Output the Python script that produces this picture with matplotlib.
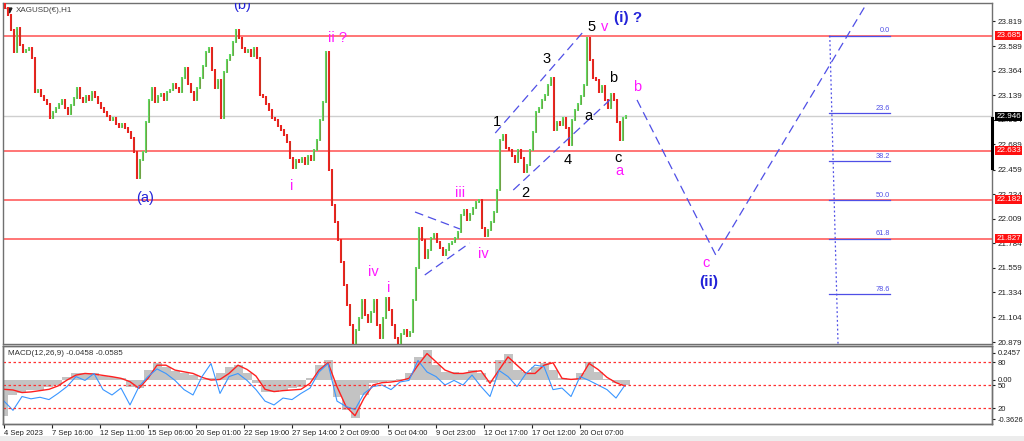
import numpy as np
import matplotlib.pyplot as plt
import matplotlib.transforms as mtransforms

plt.rcParams['font.family'] = ['Liberation Sans', 'DejaVu Sans']

# XAGUSD(EUR) H1 closes, one value every 4 bars
closes = [
    23.938, 23.874, 23.737, 23.535, 23.755, 23.599, 23.535, 23.553, 23.572, 23.480,
    23.169, 23.187, 23.132, 23.096, 23.059, 22.931, 22.986, 23.022, 23.059, 23.096,
    23.022, 22.967, 23.050, 23.114, 23.205, 23.114, 23.077, 23.132, 23.096, 23.169,
    23.123, 23.068, 23.022, 22.986, 22.949, 22.912, 22.931, 22.876, 22.848, 22.876,
    22.839, 22.802, 22.748, 22.619, 22.381, 22.546, 22.619, 22.894, 23.096, 23.205,
    23.077, 23.132, 23.150, 23.096, 23.169, 23.187, 23.242, 23.205, 23.169, 23.297,
    23.389, 23.242, 23.169, 23.096, 23.205, 23.297, 23.407, 23.535, 23.572, 23.370,
    23.205, 23.279, 22.931, 23.352, 23.462, 23.508, 23.627, 23.737, 23.663, 23.572,
    23.535, 23.553, 23.499, 23.572, 23.480, 23.141, 23.123, 23.059, 23.004, 22.931,
    22.912, 22.857, 22.821, 22.775, 22.711, 22.564, 22.473, 22.546, 22.528, 22.564,
    22.509, 22.583, 22.546, 22.638, 22.729, 22.912, 23.077, 23.535, 22.454, 22.134,
    21.978, 21.813, 21.612, 21.401, 21.218, 21.035, 20.850, 20.989, 21.099, 21.264,
    21.127, 21.062, 21.154, 21.264, 21.035, 20.916, 21.099, 21.282, 21.172, 21.035,
    20.916, 20.850, 20.953, 20.989, 20.934, 20.971, 21.264, 21.557, 21.923, 21.813,
    21.649, 21.722, 21.832, 21.868, 21.795, 21.740, 21.676, 21.722, 21.777, 21.795,
    21.832, 21.887, 22.042, 22.088, 21.997, 22.052, 22.106, 22.161, 22.180, 21.923,
    21.850, 21.905, 21.978, 22.070, 22.271, 22.729, 22.775, 22.656, 22.638, 22.583,
    22.528, 22.638, 22.564, 22.436, 22.500, 22.638, 22.802, 22.986, 23.022, 23.096,
    23.141, 23.233, 23.297, 22.821, 22.894, 22.867, 22.931, 22.839, 22.683, 22.912,
    23.004, 23.059, 23.132, 23.233, 23.663, 23.462, 23.297, 23.279, 23.169, 23.224,
    23.096, 23.022, 23.150, 23.096, 22.894, 22.729, 22.931, 22.946,
]

red_levels = [23.685, 22.633, 22.182, 21.827]
last_price = 22.946
price_ticks = [23.819, 23.589, 23.364, 23.139, 22.914, 22.689, 22.459, 22.234,
               22.009, 21.784, 21.559, 21.334, 21.104, 20.879]

time_labels = ['4 Sep 2023', '7 Sep 16:00', '12 Sep 11:00', '15 Sep 06:00',
               '20 Sep 01:00', '22 Sep 19:00', '27 Sep 14:00', '2 Oct 09:00',
               '5 Oct 04:00', '9 Oct 23:00', '12 Oct 17:00', '17 Oct 12:00',
               '20 Oct 07:00']

# indicator panel, one value every 12 bars
macd_hist = [
    -0.339, -0.141, -0.125, -0.095, -0.095, -0.065, -0.049, 0.027, 0.057, 0.063,
    0.057, 0.033, 0.027, 0.012, -0.065, -0.080, 0.088, 0.155, 0.118, 0.082,
    0.063, 0.042, 0.002, 0.012, 0.057, 0.118, 0.133, 0.057, -0.034, -0.110,
    -0.110, -0.095, -0.080, -0.065, 0.012, 0.133, 0.179, -0.156, -0.278, -0.354,
    -0.141, -0.034, -0.019, -0.010, 0.002, 0.057, 0.209, 0.270, 0.133, 0.072,
    0.072, 0.057, 0.088, 0.057, -0.019, 0.179, 0.240, 0.088, 0.072, 0.118,
    0.149, 0.088, 0.012, 0.002, 0.057, 0.164, 0.072, 0.002, -0.034, -0.046,
]
macd_signal = [
    -0.089, -0.095, -0.119, -0.113, -0.101, -0.089, -0.058, -0.004, 0.042, 0.057,
    0.051, 0.039, 0.027, 0.012, -0.019, -0.080, 0.012, 0.133, 0.133, 0.088,
    0.072, 0.057, 0.021, -0.004, 0.002, 0.057, 0.133, 0.094, 0.033, -0.089,
    -0.110, -0.101, -0.095, -0.089, -0.034, 0.088, 0.155, -0.065, -0.247, -0.332,
    -0.171, -0.049, -0.028, -0.022, -0.010, 0.012, 0.133, 0.240, 0.164, 0.088,
    0.057, 0.057, 0.072, 0.082, -0.034, 0.088, 0.209, 0.133, 0.057, 0.057,
    0.133, 0.155, 0.012, 0.002, 0.009, 0.149, 0.094, 0.021, -0.028, -0.059,
]
osc_line = [
    29, 17, 35, 32, 34, 31, 39, 48, 61, 56,
    65, 44, 37, 46, 24, 48, 61, 71, 65, 56,
    44, 37, 61, 78, 39, 61, 65, 56, 44, 29,
    24, 33, 31, 39, 46, 67, 78, 29, 22, 18,
    39, 48, 50, 44, 54, 56, 82, 67, 61, 50,
    56, 50, 63, 48, 35, 69, 61, 48, 65, 76,
    74, 44, 46, 35, 61, 56, 50, 44, 33, 50,
]
osc_levels = [80, 50, 20]

fib_high, fib_low = 23.685, 20.675
fib_ratios = [0.0, 23.6, 38.2, 50.0, 61.8, 78.6]

BLUE = '#2323d8'
MAG = '#ff19ff'
LINE_BLUE = '#4f4fe6'

# wave count labels: (text, bar, price, colour, bold)
wave_labels = [
    ('(b)', 317, 23.962, BLUE, False),
    ('(a)', 188, 22.198, BLUE, False),
    ('ii ?', 445, 23.663, MAG, False),
    ('i', 383, 22.308, MAG, False),
    ('iv', 492, 21.520, MAG, False),
    ('i', 513, 21.374, MAG, False),
    ('iii', 608, 22.244, MAG, False),
    ('iv', 639, 21.685, MAG, False),
    ('1', 657, 22.894, 'black', False),
    ('2', 695, 22.244, 'black', False),
    ('3', 723, 23.471, 'black', False),
    ('4', 751, 22.546, 'black', False),
    ('5', 784, 23.764, 'black', False),
    ('v', 801, 23.764, MAG, False),
    ('(i) ?', 832, 23.846, BLUE, True),
    ('a', 779, 22.949, 'black', False),
    ('b', 812, 23.297, 'black', False),
    ('c', 819, 22.564, 'black', False),
    ('a', 820, 22.445, MAG, False),
    ('b', 844, 23.215, MAG, False),
    ('c', 936, 21.603, MAG, False),
    ('(ii)', 940, 21.429, BLUE, True),
]

fig = plt.figure(figsize=(10.24, 4.41), dpi=100, facecolor='white')
ax = fig.add_axes([3 / 1024, 97 / 441, 989 / 1024, 341 / 441])
ax2 = fig.add_axes([3 / 1024, 17 / 441, 989 / 1024, 78 / 441])
ax3 = ax2.twinx()

# --- price panel ---
c = np.array(closes)
o = np.concatenate([[c[0] + 0.03], c[:-1]])
xb = 1 + 4 * np.arange(len(c))
up = c >= o
lo = np.minimum(o, c)
hi = np.maximum(o, c)
ax.vlines(xb[up], lo[up] - 0.012, hi[up] + 0.012, colors='#5fd95f', lw=1.5, zorder=3)
ax.vlines(xb[~up], lo[~up] - 0.012, hi[~up] + 0.012, colors='#f52020', lw=1.5, zorder=3)
ax.vlines(xb, lo, hi, colors='#8a4a1c', lw=0.6, alpha=0.45, zorder=4)

for lvl in red_levels:
    ax.axhline(lvl, color='#ff5050', lw=1.1, zorder=2)
ax.axhline(last_price, color='#cfcfcf', lw=1.0, zorder=1)

# trend / projection lines
dash = dict(color=LINE_BLUE, lw=0.9, dashes=(7, 4), zorder=5)
ax.plot([655, 772], [22.793, 23.718], **dash)
ax.plot([679, 812], [22.271, 23.123], **dash)
ax.plot([548, 608], [22.070, 21.914], **dash)
ax.plot([561, 621], [21.493, 21.786], **dash)
ax.plot([844, 949, 1161], [23.096, 21.676, 24.103], **dash)

# fibonacci retracement
fib_prices = [fib_high - r / 100 * (fib_high - fib_low) for r in fib_ratios]
ax.plot([1101, 1112], [fib_high, 20.861], color=LINE_BLUE, lw=0.9, ls=(0, (1.5, 2)), zorder=5)
for r, p in zip(fib_ratios, fib_prices):
    ax.plot([1100, 1181], [p, p], color=LINE_BLUE, lw=0.9, zorder=5)
    ax.text(1181, p + 0.012, f'{r:.1f}', color=LINE_BLUE, fontsize=5.3,
            ha='right', va='bottom', zorder=6)

for txt, bx, py, col, bold in wave_labels:
    ax.text(bx, py, txt, color=col, fontsize=11 if bold else 10.5,
            fontweight='bold' if bold else 'normal', ha='center', va='center',
            zorder=7, clip_on=True)

ax.text(0.013, 0.978, 'XAGUSD(\u20ac),H1', transform=ax.transAxes, fontsize=5.8,
        color='#404040', ha='left', va='center')
ax.plot([0.006], [0.98], marker='v', ms=3.5, color='#202020', transform=ax.transAxes)

ax.set_xlim(-1.33, 1317.3)
ax.set_ylim(20.861, 23.984)
ax.yaxis.tick_right()
ax.set_yticks(price_ticks)
ax.set_yticklabels([f'{t:.3f}' for t in price_ticks])
ax.tick_params(axis='y', labelsize=5.8, length=2.5, pad=1.5, colors='#202020')
ax.tick_params(axis='x', bottom=False, labelbottom=False)

trans = mtransforms.blended_transform_factory(ax.transAxes, ax.transData)
for lvl in red_levels:
    ax.annotate(f'{lvl:.3f}', xy=(1, lvl), xycoords=trans, xytext=(3.2, 0),
                textcoords='offset points', fontsize=5.8, color='white',
                ha='left', va='center', annotation_clip=False, zorder=10,
                bbox=dict(boxstyle='square,pad=0.15', fc='#ff1010', ec='none'))
ax.annotate(f'{last_price:.3f}', xy=(1, last_price), xycoords=trans, xytext=(3.2, 0),
            textcoords='offset points', fontsize=5.8, color='white',
            ha='left', va='center', annotation_clip=False, zorder=10,
            bbox=dict(boxstyle='square,pad=0.15', fc='black', ec='none'))
ax.plot([1.0, 1.0], [22.93, 22.47], transform=trans, color='black', lw=2.2,
        clip_on=False, zorder=9)

# --- MACD + oscillator panel ---
xi = 12 * np.arange(len(macd_hist))
ax2.bar(xi, macd_hist, width=12, color='#c3c3c3', lw=0, zorder=1)
ax2.plot(xi, macd_signal, color='#ff2020', lw=1.0, zorder=3)
ax3.plot(xi, osc_line, color='#3a96ff', lw=0.8, zorder=2)
for lvl in osc_levels:
    ax3.axhline(lvl, color='#ff3030', lw=0.9, ls=(0, (2, 2)))

ax2.set_xlim(-1.33, 1317.3)
ax2.set_ylim(-0.4083, 0.3096)
ax3.set_ylim(-0.86, 100.9)
ax2.yaxis.tick_right()
ax2.set_yticks([0.2457, 0.0, -0.3626])
ax2.set_yticklabels(['0.2457', '0.00', '-0.3626'])
ax3.set_yticks(osc_levels)
ax3.set_yticklabels([str(v) for v in osc_levels])
for a in (ax2, ax3):
    a.tick_params(axis='y', labelsize=5.5, length=2.5, pad=1.5, colors='#202020')
ax2.set_xticks(64 * np.arange(len(time_labels)))
ax2.set_xticklabels(time_labels)
for lbl in ax2.get_xticklabels():
    lbl.set_ha('left')
ax2.tick_params(axis='x', labelsize=5.5, length=3, pad=1.5, colors='#202020')
ax2.text(0.005, 0.9, 'MACD(12,26,9) -0.0458 -0.0585', transform=ax2.transAxes,
         fontsize=5.8, color='#303030', ha='left', va='center', zorder=5)
ax3.set_zorder(ax2.get_zorder() + 1)
ax3.patch.set_visible(False)

for a in (ax, ax2, ax3):
    for s in a.spines.values():
        s.set_color('#707070')
        s.set_linewidth(1.0)

fig.patches.append(plt.Rectangle((0, 0), 1, 5 / 441, transform=fig.transFigure,
                                 fc='#ececec', ec='none'))

fig.savefig('out.png', dpi=100)
